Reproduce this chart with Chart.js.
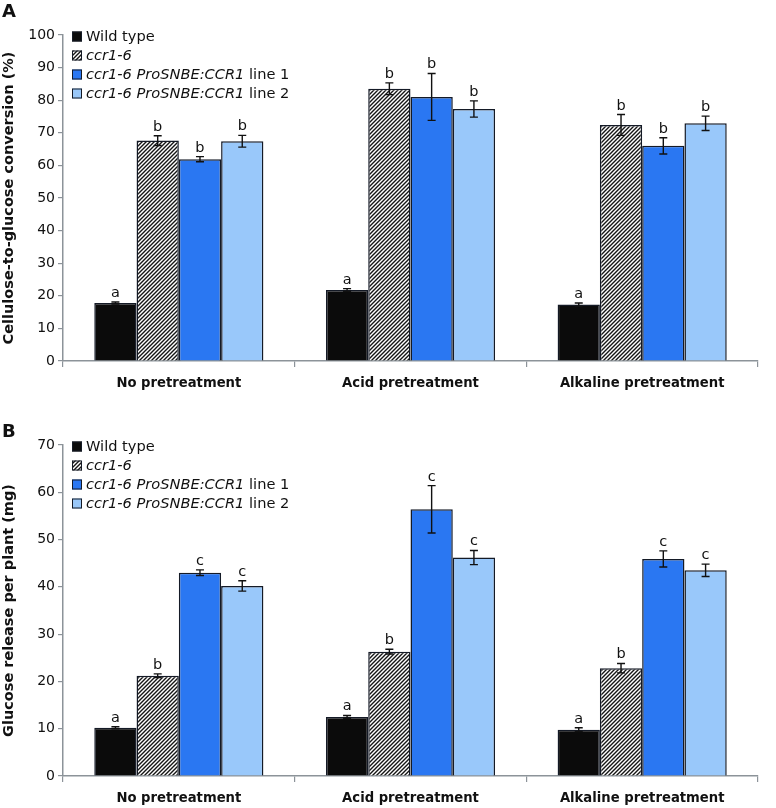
<!DOCTYPE html>
<html>
<head>
<meta charset="utf-8">
<script src="https://cdn.jsdelivr.net/npm/chart.js@4.4.1/dist/chart.umd.min.js"></script>
<style>
  html, body { margin: 0; padding: 0; background: #ffffff; }
  #wrap { position: relative; width: 776px; height: 808px; overflow: hidden; }
  canvas { position: absolute; left: 0; }
  #cA { top: 0; }
  #cB { top: 400px; }
</style>
</head>
<body>
<div id="wrap">
  <canvas id="cA" width="776" height="400"></canvas>
  <canvas id="cB" width="776" height="408"></canvas>
</div>
<script>
// ---------- data ----------
const categories = ['No pretreatment', 'Acid pretreatment', 'Alkaline pretreatment'];
const seriesNames = ['Wild type', 'ccr1-6', 'ccr1-6 ProSNBE:CCR1 line 1', 'ccr1-6 ProSNBE:CCR1 line 2'];

// Panel A: cellulose-to-glucose conversion (%)
const convWildType = [17.8, 21.8, 17.3];
const convCcr16 = [67.6, 83.5, 72.4];
const convLine1 = [61.9, 81.0, 66.0];
const convLine2 = [67.4, 77.3, 72.9];
const convWildTypeErr = [0.3, 0.4, 0.5];
const convCcr16Err = [1.5, 1.8, 3.2];
const convLine1Err = [0.8, 7.2, 2.5];
const convLine2Err = [1.8, 2.5, 2.2];
const convLetters = ['a', 'b', 'b', 'b'];
const convTicks = [0, 10, 20, 30, 40, 50, 60, 70, 80, 90, 100];

// Panel B: glucose release per plant (mg)
const glcWildType = [10.2, 12.5, 9.8];
const glcCcr16 = [21.2, 26.3, 22.8];
const glcLine1 = [43.0, 56.4, 45.9];
const glcLine2 = [40.2, 46.2, 43.5];
const glcWildTypeErr = [0.2, 0.3, 0.4];
const glcCcr16Err = [0.4, 0.5, 1.0];
const glcLine1Err = [0.6, 5.0, 1.7];
const glcLine2Err = [1.1, 1.5, 1.3];
const glcLetters = ['a', 'b', 'c', 'c'];
const glcTicks = [0, 10, 20, 30, 40, 50, 60, 70];

// ---------- styles ----------
const FONT = '"DejaVu Sans", "Liberation Sans", Arial, sans-serif';
const AXIS_COLOR = '#8c9399';
const BORDER = '#141a26';
const COLOR_WT = '#0b0b0b';
const COLOR_L1 = '#2a77f2';
const COLOR_L2 = '#99c8fa';

function makeHatch() {
  const c = document.createElement('canvas');
  c.width = 4; c.height = 4;
  const g = c.getContext('2d');
  g.fillStyle = '#ffffff';
  g.fillRect(0, 0, 4, 4);
  g.strokeStyle = '#151515';
  g.lineWidth = 1.4;
  g.beginPath();
  g.moveTo(-1, 5); g.lineTo(5, -1);
  g.moveTo(-1, 1); g.lineTo(1, -1);
  g.moveTo(3, 5); g.lineTo(5, 3);
  g.stroke();
  return g.createPattern(c, 'repeat');
}
const HATCH = makeHatch();

const legendParts = [
  [['Wild type', false]],
  [['ccr1-6', true]],
  [['ccr1-6 ProSNBE:CCR1', true], [' line 1', false]],
  [['ccr1-6 ProSNBE:CCR1', true], [' line 2', false]]
];

const overlayPlugin = {
  id: 'overlay',
  afterDatasetsDraw(chart) {
    const cfg = chart.options.plugins.overlay;
    const ctx = chart.ctx;
    const ys = chart.scales.y;
    const area = chart.chartArea;
    // error bars + letters
    chart.data.datasets.forEach((ds, di) => {
      const meta = chart.getDatasetMeta(di);
      meta.data.forEach((bar, i) => {
        const v = ds.data[i];
        const e = cfg.errors[di][i];
        const top = ys.getPixelForValue(v + e);
        const bot = ys.getPixelForValue(v - e);
        ctx.save();
        ctx.strokeStyle = '#111111';
        ctx.lineWidth = 1.4;
        ctx.beginPath();
        ctx.moveTo(bar.x, top); ctx.lineTo(bar.x, bot);
        ctx.moveTo(bar.x - 4, top); ctx.lineTo(bar.x + 4, top);
        ctx.moveTo(bar.x - 4, bot); ctx.lineTo(bar.x + 4, bot);
        ctx.stroke();
        ctx.fillStyle = '#111111';
        ctx.font = '14.5px ' + FONT;
        ctx.textAlign = 'center';
        ctx.textBaseline = 'alphabetic';
        ctx.fillText(cfg.letters[di], bar.x, Math.min(top, bar.y) - 5);
        ctx.restore();
      });
    });
    // legend
    ctx.save();
    const x0 = area.left + 9;
    chart.data.datasets.forEach((ds, di) => {
      const cy = area.top + 1.5 + di * 19;
      ctx.fillStyle = ds.backgroundColor;
      ctx.fillRect(x0, cy - 5, 10, 10);
      ctx.strokeStyle = BORDER;
      ctx.lineWidth = 1;
      ctx.strokeRect(x0 + 0.5, cy - 4.5, 9, 9);
      let tx = x0 + 14;
      ctx.fillStyle = '#111111';
      ctx.textAlign = 'left';
      ctx.textBaseline = 'middle';
      legendParts[di].forEach(([txt, it]) => {
        ctx.font = (it ? 'italic ' : '') + '14.6px ' + FONT;
        ctx.fillText(txt, tx, cy + 1);
        tx += ctx.measureText(txt).width;
      });
    });
    // panel label
    ctx.font = 'bold 18px ' + FONT;
    ctx.fillStyle = '#111111';
    ctx.textAlign = 'left';
    ctx.textBaseline = 'top';
    ctx.fillText(cfg.panel, 2, cfg.panelY);
    ctx.restore();
  }
};

function makeChart(id, vals, errs, letters, ticks, yMax, yTitle, padTop, xHeight, panel, panelY) {
  const datasets = [
    { label: seriesNames[0], data: vals[0], backgroundColor: COLOR_WT, borderColor: BORDER, borderWidth: 1.5 },
    { label: seriesNames[1], data: vals[1], backgroundColor: HATCH, borderColor: BORDER, borderWidth: 1.5 },
    { label: seriesNames[2], data: vals[2], backgroundColor: COLOR_L1, borderColor: BORDER, borderWidth: 1.5 },
    { label: seriesNames[3], data: vals[3], backgroundColor: COLOR_L2, borderColor: BORDER, borderWidth: 1.5 }
  ];
  return new Chart(document.getElementById(id), {
    type: 'bar',
    data: { labels: categories, datasets: datasets },
    options: {
      responsive: false,
      animation: false,
      devicePixelRatio: 1,
      layout: { padding: { left: 0, right: 18, top: padTop, bottom: 0 } },
      datasets: { bar: { categoryPercentage: 0.73, barPercentage: 1.0 } },
      plugins: {
        legend: { display: false },
        tooltip: { enabled: false },
        overlay: { errors: errs, letters: letters, panel: panel, panelY: panelY }
      },
      scales: {
        x: {
          grid: { display: true, drawOnChartArea: false, drawTicks: true, tickLength: 6, color: AXIS_COLOR, lineWidth: 1.2, offset: true },
          border: { display: true, color: AXIS_COLOR, width: 1.5 },
          ticks: { color: '#111111', font: { family: FONT, size: 13.2, weight: 'bold' }, padding: 9, maxRotation: 0 },
          afterFit: (s) => { s.height = xHeight; }
        },
        y: {
          min: 0, max: yMax,
          afterBuildTicks: (s) => { s.ticks = ticks.map(v => ({ value: v })); },
          grid: { display: true, drawOnChartArea: false, drawTicks: true, tickLength: 5, color: AXIS_COLOR, lineWidth: 1.2 },
          border: { display: true, color: AXIS_COLOR, width: 1.5 },
          ticks: { color: '#111111', font: { family: FONT, size: 14 }, padding: 3 },
          title: { display: true, text: yTitle, color: '#111111', font: { family: FONT, size: 14.5, weight: 'bold' }, padding: { top: 1, bottom: 0 } },
          afterFit: (s) => { s.width = 63; }
        }
      }
    },
    plugins: [overlayPlugin]
  });
}

makeChart('cA',
  [convWildType, convCcr16, convLine1, convLine2],
  [convWildTypeErr, convCcr16Err, convLine1Err, convLine2Err],
  convLetters, convTicks, 100, 'Cellulose-to-glucose conversion (%)', 35, 39, 'A', 3);

makeChart('cB',
  [glcWildType, glcCcr16, glcLine1, glcLine2],
  [glcWildTypeErr, glcCcr16Err, glcLine1Err, glcLine2Err],
  glcLetters, glcTicks, 70, 'Glucose release per plant (mg)', 45, 32, 'B', 23);
</script>
</body>
</html>
